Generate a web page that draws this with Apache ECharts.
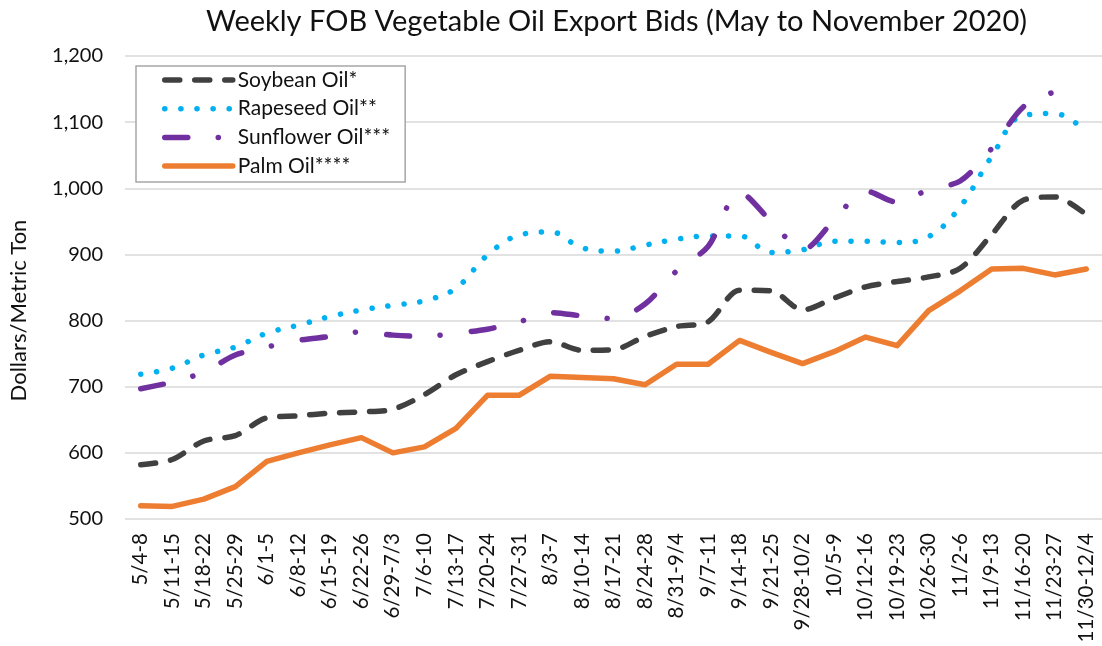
<!DOCTYPE html>
<html>
<head>
<meta charset="utf-8">
<script src="https://cdn.jsdelivr.net/npm/echarts@6/dist/echarts.min.js"></script>
<style>
html,body{margin:0;padding:0;background:#fff;}
#chart{width:1102px;height:646px;}
</style>
</head>
<body>
<div id="chart"></div>
<script>
const categories = ['5/4-8','5/11-15','5/18-22','5/25-29','6/1-5','6/8-12','6/15-19','6/22-26','6/29-7/3','7/6-10','7/13-17','7/20-24','7/27-31','8/3-7','8/10-14','8/17-21','8/24-28','8/31-9/4','9/7-11','9/14-18','9/21-25','9/28-10/2','10/5-9','10/12-16','10/19-23','10/26-30','11/2-6','11/9-13','11/16-20','11/23-27','11/30-12/4'];
const soybean = [582,590,618,626,653,656,660,662,666,688,718,738,755,768,755,756,776,791,798,846,845,816,834,851,859,866,879,930,982,987,960];
const rapeseed = [719,728,748,760,781,793,806,816,823,830,849,899,929,934,910,905,914,923,928,928,903,907,920,920,918,927,972,1048,1110,1113,1085];
const sunflower = [697,707,722,748,760,770,776,783,778,776,781,787,798,812,807,803,825,875,912,994,950,907,952,996,979,998,1011,1060,1123,1146,null];
const palm = [520,519,530,549,587,600,612,623,600,609,637,687,687,716,714,712,703,734,734,770,752,735,753,775,762,815,845,878,879,869,878];
const seriesNames = ['Soybean Oil*','Rapeseed Oil**','Sunflower Oil***','Palm Oil****'];
const yMin = 500, yMax = 1200, yStep = 100;

const FONT = 'Lato';
const chart = echarts.init(document.getElementById('chart'));
chart.setOption({
  animation: false,
  backgroundColor: '#fff',
  textStyle: { fontFamily: FONT },
  title: {
    text: 'Weekly FOB Vegetable Oil Export Bids (May to November 2020)',
    left: 201, top: 2,
    textStyle: { fontFamily: FONT, fontSize: 29, fontWeight: 'normal', color: '#111' }
  },
  legend: {
    orient: 'vertical',
    left: 136, top: 66,
    padding: [3.5, 15, 5.5, 26],
    itemWidth: 68, itemHeight: 14, itemGap: 7.7,
    borderColor: '#a6a6a6', borderWidth: 1.5,
    backgroundColor: '#fff',
    itemStyle: { opacity: 0 },
    lineStyle: { width: 5.5 },
    textStyle: { fontFamily: FONT, fontSize: 21, color: '#111' },
    data: seriesNames
  },
  grid: { left: 124, right: -11, top: 56, bottom: 127, containLabel: false },
  xAxis: {
    type: 'category',
    data: categories,
    boundaryGap: true,
    axisLine: { show: false },
    axisTick: { show: false },
    axisLabel: { rotate: 90, interval: 0, margin: 14, fontFamily: FONT, fontSize: 20.5, color: '#111' },
    splitLine: { show: false }
  },
  yAxis: {
    type: 'value',
    min: yMin, max: yMax, interval: yStep,
    name: 'Dollars/Metric Ton',
    nameLocation: 'middle',
    nameGap: 95,
    nameTextStyle: { fontFamily: FONT, fontSize: 22, color: '#111', padding: [0, 46, 0, 0] },
    axisLine: { show: false },
    axisTick: { show: false },
    axisLabel: {
      margin: 22, fontFamily: FONT, fontSize: 20, color: '#111',
      formatter: v => v.toLocaleString('en-US')
    },
    splitLine: { lineStyle: { color: '#d9d9d9', width: 1.5 } }
  },
  series: [
    {
      name: seriesNames[0], type: 'line', data: soybean, symbol: 'none', smooth: 0.3,
      itemStyle: { color: '#404040' },
      lineStyle: { color: '#404040', width: 5.5, type: [15, 15], cap: 'round' }
    },
    {
      name: seriesNames[1], type: 'line', data: rapeseed, symbol: 'none', smooth: 0.4,
      itemStyle: { color: '#00B0F0' },
      lineStyle: { color: '#00B0F0', width: 5.5, type: [0.1, 16], cap: 'round' }
    },
    {
      name: seriesNames[2], type: 'line', data: sunflower, symbol: 'none', smooth: 0.3,
      itemStyle: { color: '#7030A0' },
      lineStyle: { color: '#7030A0', width: 5.5, type: [23, 30.5, 0.1, 31.4], cap: 'round' }
    },
    {
      name: seriesNames[3], type: 'line', data: palm, symbol: 'none', smooth: false,
      itemStyle: { color: '#ED7D31' },
      lineStyle: { color: '#ED7D31', width: 5.5, cap: 'round', join: 'round' }
    }
  ]
});
</script>
</body>
</html>
